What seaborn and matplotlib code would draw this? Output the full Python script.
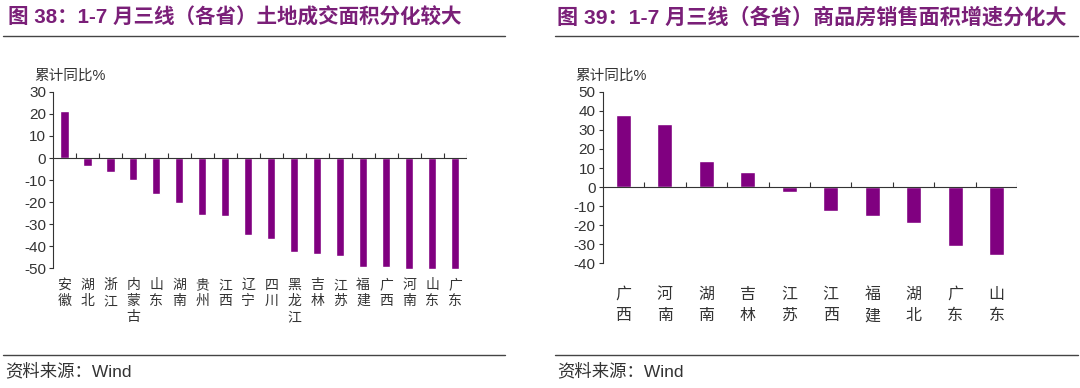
import numpy as np
import pandas as pd
import seaborn as sns
import matplotlib.pyplot as plt
from matplotlib.lines import Line2D

# Left: land transaction area, cumulative YoY %
land_provinces = ['安徽', '湖北', '浙江', '内蒙古', '山东', '湖南', '贵州', '江西', '辽宁',
                  '四川', '黑龙江', '吉林', '江苏', '福建', '广西', '河南', '山东', '广东']
land_values = [21.5, -3.5, -6.5, -10, -16.5, -20.5, -26, -26.5, -35,
               -37, -42.5, -43.5, -44.5, -49.5, -49.5, -50.5, -50.5, -50.5]

# Right: commodity housing sales area, cumulative YoY %
sales_provinces = ['广西', '河南', '湖南', '吉林', '江苏', '江西', '福建', '湖北', '广东', '山东']
sales_values = [38, 33, 13.5, 8, -2.5, -12.5, -15, -19, -31, -35.5]

sns.set_theme(style='white')
plt.rcParams['font.family'] = ['Liberation Sans', 'Noto Sans CJK SC', 'DejaVu Sans']
plt.rcParams['axes.unicode_minus'] = False

bar_color = '#800080'
title_color = '#7a1f78'

fig = plt.figure(figsize=(10.8, 3.88), dpi=100)
ax1 = fig.add_axes([0.049, 0.309, 0.383, 0.454])
ax2 = fig.add_axes([0.558, 0.322, 0.384, 0.441])


def draw_panel(ax, names, values, ylim, ystep, width, lab_size, lab_spacing, lab_pad, tick_h):
    df = pd.DataFrame({'pos': np.arange(len(names)), 'value': values})
    sns.barplot(data=df, x='pos', y='value', color=bar_color, width=width,
                saturation=1, ax=ax, order=list(range(len(names))))
    for p in ax.patches:
        p.set_clip_on(False)
    n = len(names)
    ax.set_xlim(-0.5, n - 0.5)
    ax.set_ylim(*ylim)
    ax.set_yticks(np.arange(ylim[0], ylim[1] + 1, ystep))
    ax.set_xticks(range(n))
    ax.set_xticklabels(['\n'.join(s) for s in names], fontsize=lab_size,
                       linespacing=lab_spacing, va='top', color='#333333')
    ax.tick_params(axis='x', length=0, pad=lab_pad)
    ax.tick_params(axis='y', length=3, width=0.8, direction='out', left=True,
                   labelsize=11, pad=2, colors='#333333')
    ax.set_xlabel('')
    ax.set_ylabel('')
    for s in ['top', 'right', 'bottom']:
        ax.spines[s].set_visible(False)
    ax.spines['left'].set_color('#333333')
    ax.spines['left'].set_linewidth(0.8)
    ax.axhline(0, color='#333333', lw=0.8)
    bounds = np.arange(n) + 0.5
    ax.vlines(bounds, 0, tick_h, color='#333333', lw=0.8)


draw_panel(ax1, land_provinces, land_values, (-50, 30), 10, 0.36, 10, 1.2, 7, 2.2)
draw_panel(ax2, sales_provinces, sales_values, (-40, 50), 10, 0.36, 11.5, 1.55, 17, 2.6)

# y unit labels
fig.text(0.032, 0.806, '累计同比%', fontsize=10.5, color='#333333', va='center')
fig.text(0.533, 0.806, '累计同比%', fontsize=10.5, color='#333333', va='center')

# titles and rules
fig.text(0.007, 0.956, '图 38：1-7 月三线（各省）土地成交面积分化较大', fontsize=14.8,
         fontweight='bold', color=title_color, va='center')
fig.text(0.516, 0.956, '图 39：1-7 月三线（各省）商品房销售面积增速分化大', fontsize=15.2,
         fontweight='bold', color=title_color, va='center')
for x0, x1 in [(0.003, 0.468), (0.514, 0.998)]:
    fig.add_artist(Line2D([x0, x1], [0.907, 0.907], color='#444444', lw=1))
    fig.add_artist(Line2D([x0, x1], [0.085, 0.085], color='#444444', lw=1))

fig.text(0.005, 0.045, '资料来源：Wind', fontsize=12.5, color='#333333', va='center')
fig.text(0.516, 0.045, '资料来源：Wind', fontsize=12.5, color='#333333', va='center')

fig.savefig('out.png', dpi=100)
